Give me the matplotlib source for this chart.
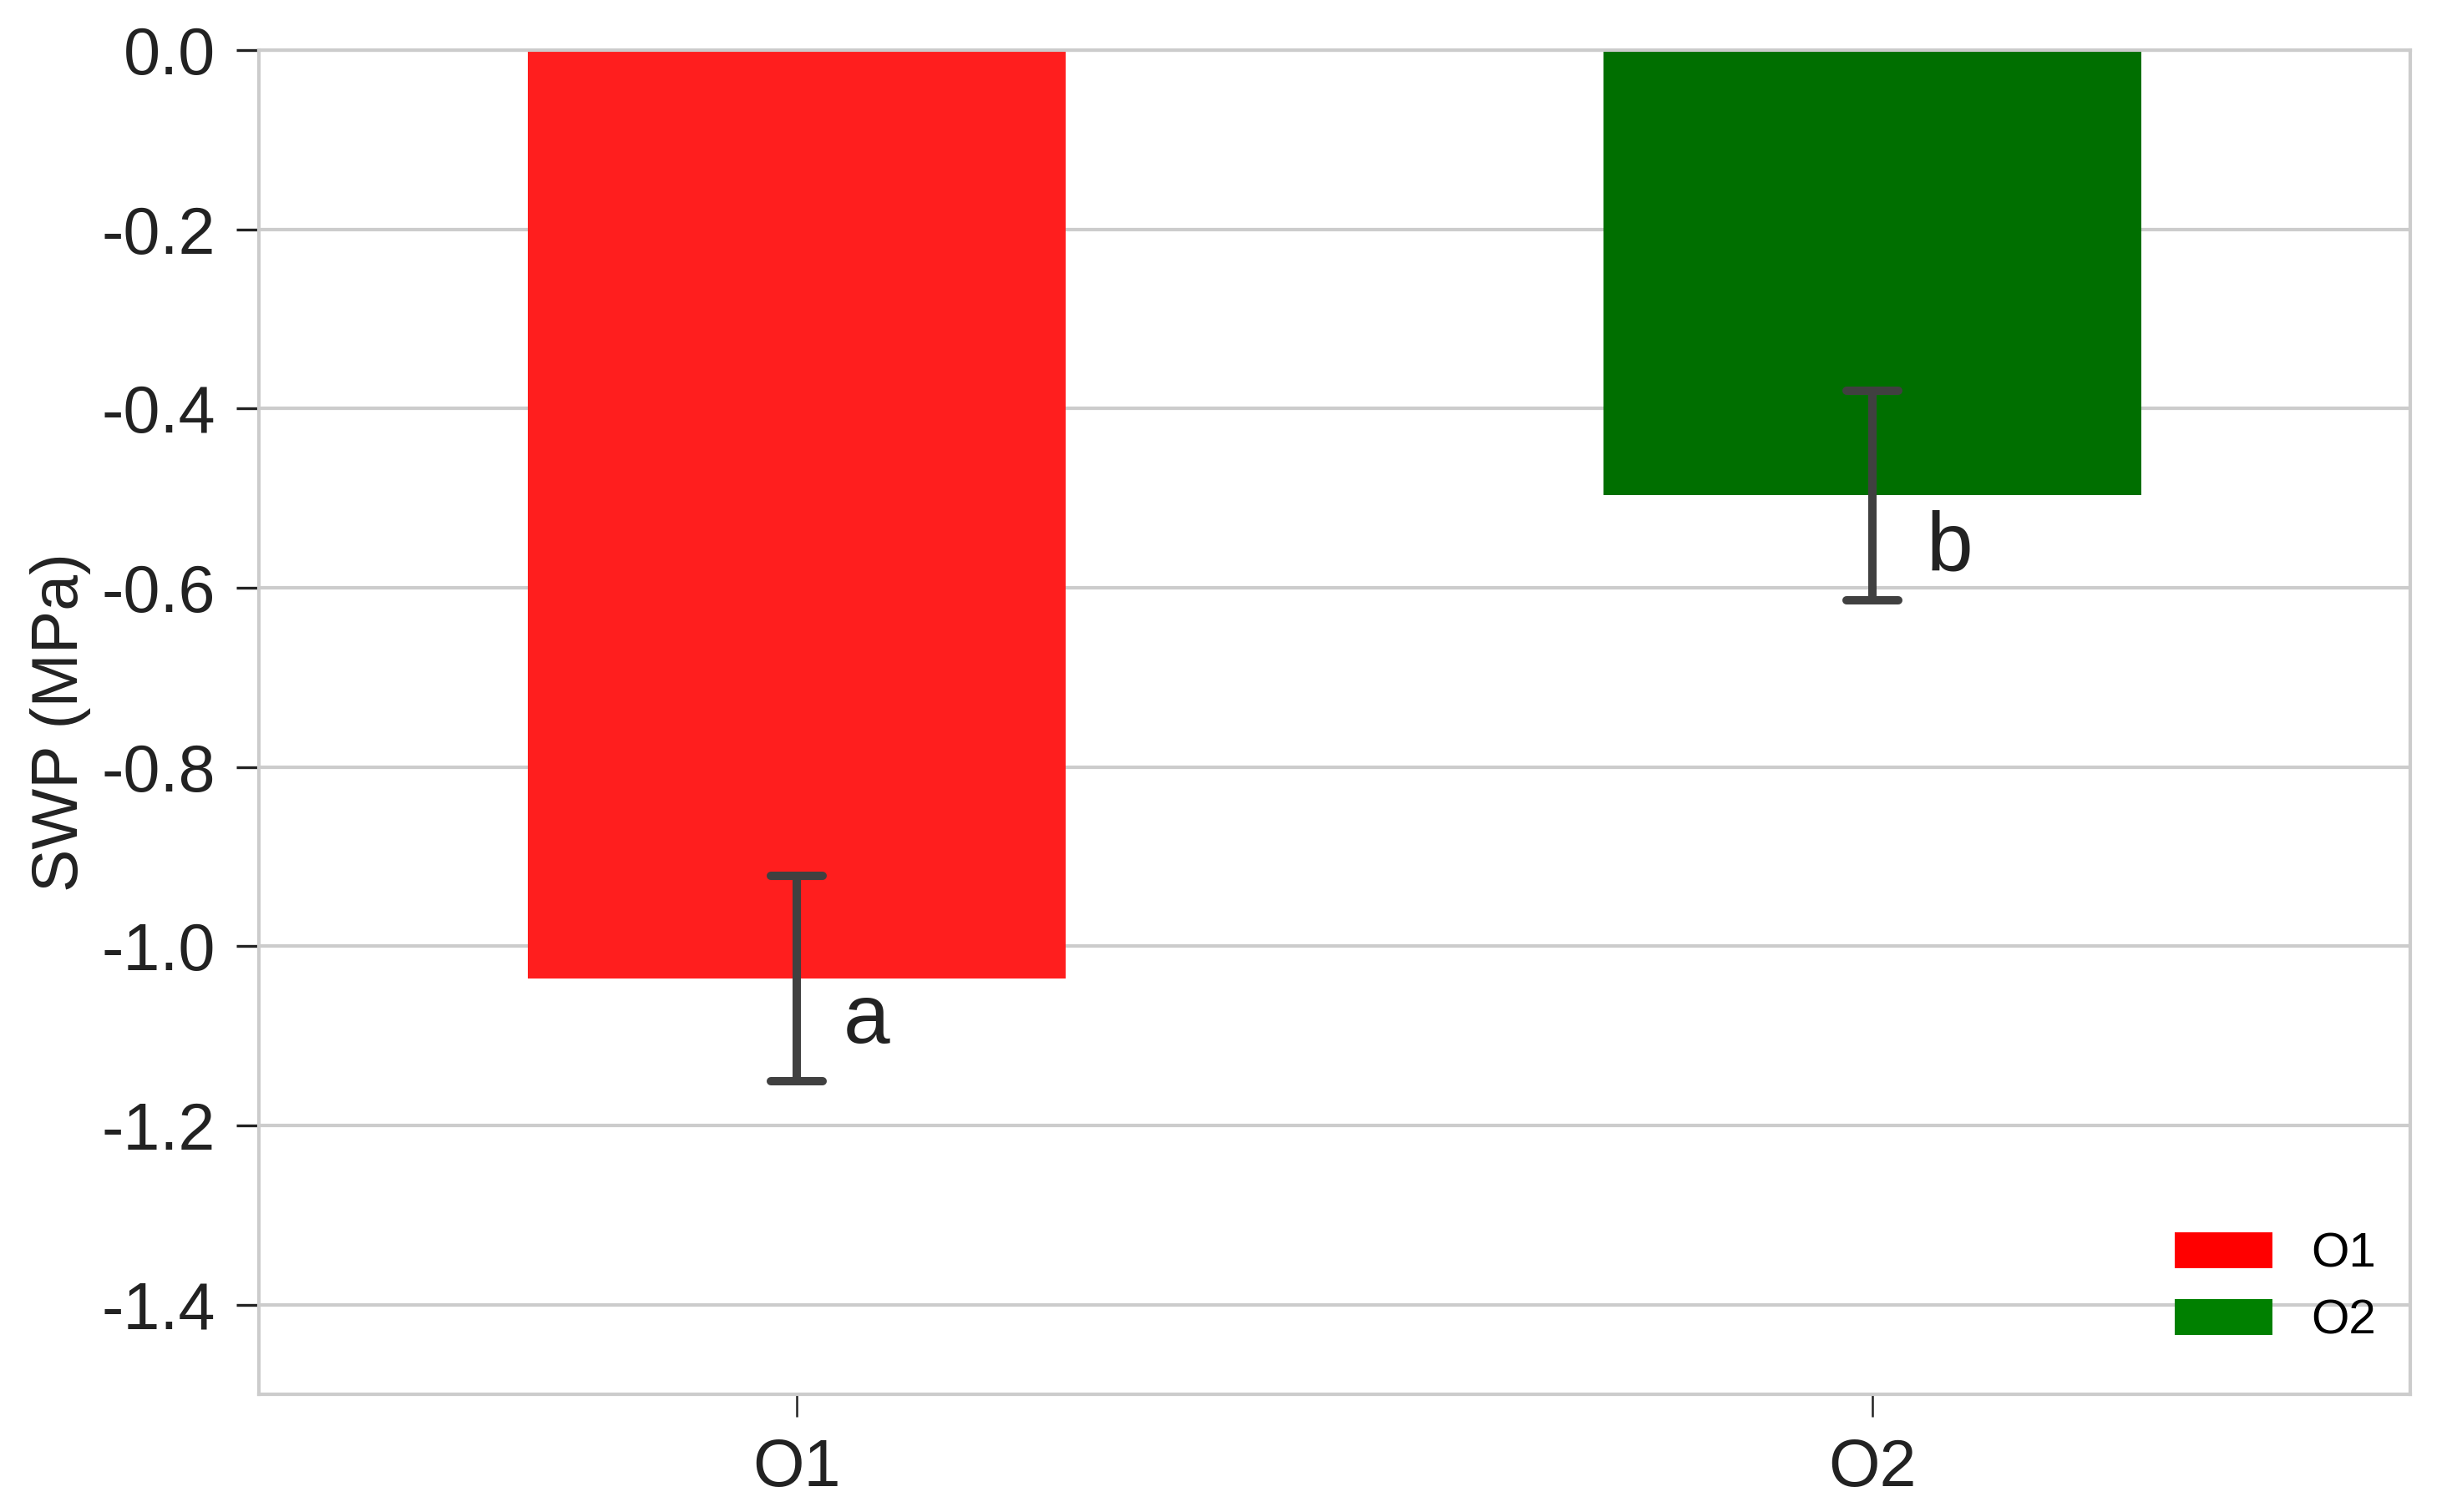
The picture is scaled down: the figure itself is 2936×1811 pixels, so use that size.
import matplotlib
matplotlib.use("Agg")
import matplotlib.pyplot as plt
from matplotlib.patches import Patch

categories = ["O1", "O2"]
means = [-1.036, -0.497]
errors = [0.115, 0.117]
letters = ["a", "b"]
bar_colors = ["#FF1E1E", "#006F00"]
legend_colors = ["#FF0000", "#008000"]
yticks = [0.0, -0.2, -0.4, -0.6, -0.8, -1.0, -1.2, -1.4]

plt.rcParams['font.family'] = ['Liberation Sans', 'DejaVu Sans']

fig = plt.figure(figsize=(2937/300, 1811/300), dpi=300)
ax = fig.add_axes([310/2937, 1 - 1670/1811, (2886-310)/2937, (1670-60)/1811])

x = list(range(len(categories)))
ax.bar(x, means, width=0.5, color=bar_colors, zorder=2)

err_color = "#404040"
ax.errorbar(x, means, yerr=errors, fmt='none', ecolor=err_color,
            elinewidth=2.4, capsize=0, zorder=3)
for xi, m, e in zip(x, means, errors):
    for yc in (m - e, m + e):
        ax.plot([xi - 0.024, xi + 0.024], [yc, yc], color=err_color, lw=2.4,
                solid_capstyle='round', zorder=3)

for xi, m, lab, dx, dy in zip(x, means, letters, [0.043, 0.05], [0.072, 0.084]):
    ax.text(xi + dx, m - dy, lab, fontsize=24, ha='left', va='baseline',
            color='#222222', zorder=4)

ax.set_xlim(-0.5, 1.5)
ax.set_ylim(-1.5, 0.0)
ax.set_yticks(yticks)
ax.set_yticklabels([f"{v:.1f}" for v in yticks])
ax.set_xticks(x)
ax.set_xticklabels(categories)
ax.set_ylabel("SWP (MPa)", fontsize=18.5, color='#222222', labelpad=3)

ax.yaxis.grid(True, color='#cccccc', lw=1.0, zorder=0)
ax.xaxis.grid(False)
ax.set_axisbelow(True)
for s in ax.spines.values():
    s.set_color('#cccccc')
    s.set_linewidth(1.0)
ax.tick_params(axis='both', labelsize=19, colors='#222222', length=6.5, width=0.8,
               pad=6)
ax.tick_params(axis='x', length=6.5, width=0.6)

handles = [Patch(facecolor=c, edgecolor='none') for c in legend_colors]
ax.legend(handles, categories, loc='lower right', frameon=False, fontsize=14,
          handlelength=2.0, handleheight=0.75, handletextpad=0.8,
          labelspacing=0.45, borderaxespad=0.3,
          bbox_to_anchor=(1.0, 0.012))

fig.savefig("out.png", dpi=300, facecolor='white')
